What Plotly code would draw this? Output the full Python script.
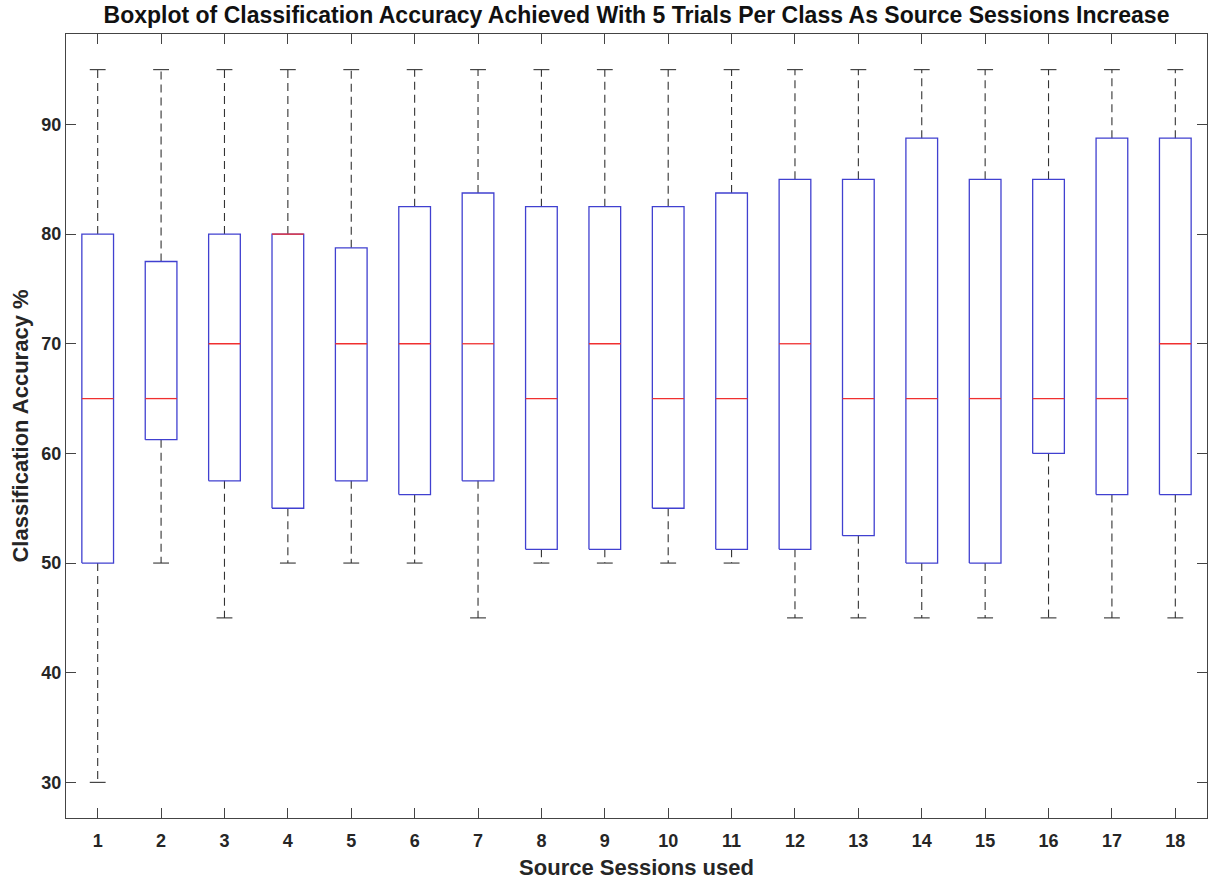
import plotly.graph_objects as go

# ---- data ----
sessions = list(range(1, 19))
lower_whisker = [30, 50, 45, 50, 50, 50, 45, 50, 50, 50, 50, 45, 45, 45, 45, 45, 45, 45]
q1 =            [50, 61.25, 57.5, 55, 57.5, 56.25, 57.5, 51.25, 51.25, 55, 51.25, 51.25, 52.5, 50, 50, 60, 56.25, 56.25]
median =        [65, 65, 70, 80, 70, 70, 70, 65, 70, 65, 65, 70, 65, 65, 65, 65, 65, 70]
q3 =            [80, 77.5, 80, 80, 78.75, 82.5, 83.75, 82.5, 82.5, 82.5, 83.75, 85, 85, 88.75, 85, 85, 88.75, 88.75]
upper_whisker = [95] * 18
y_ticks = [30, 40, 50, 60, 70, 80, 90]

BOX_HALF = 0.25
CAP_HALF = 0.125

box_x, box_y = [], []
med_x, med_y = [], []
wh_x, wh_y = [], []
cap_x, cap_y = [], []
for i, s in enumerate(sessions):
    box_x += [s - BOX_HALF, s + BOX_HALF, s + BOX_HALF, s - BOX_HALF, s - BOX_HALF, None]
    box_y += [q1[i], q1[i], q3[i], q3[i], q1[i], None]
    med_x += [s - BOX_HALF, s + BOX_HALF, None]
    med_y += [median[i], median[i], None]
    wh_x += [s, s, None, s, s, None]
    wh_y += [q3[i], upper_whisker[i], None, q1[i], lower_whisker[i], None]
    cap_x += [s - CAP_HALF, s + CAP_HALF, None, s - CAP_HALF, s + CAP_HALF, None]
    cap_y += [upper_whisker[i], upper_whisker[i], None, lower_whisker[i], lower_whisker[i], None]

fig = go.Figure()
fig.add_trace(go.Scatter(x=wh_x, y=wh_y, mode="lines",
                         line=dict(color="#333333", width=1.1, dash="8px,5px"),
                         hoverinfo="skip", showlegend=False))
fig.add_trace(go.Scatter(x=cap_x, y=cap_y, mode="lines",
                         line=dict(color="#333333", width=1.1),
                         hoverinfo="skip", showlegend=False))
fig.add_trace(go.Scatter(x=box_x, y=box_y, mode="lines",
                         line=dict(color="#4040d0", width=1.3),
                         hoverinfo="skip", showlegend=False))
fig.add_trace(go.Scatter(x=med_x, y=med_y, mode="lines",
                         line=dict(color="#f03030", width=1.3),
                         hoverinfo="skip", showlegend=False))

font_family = "Liberation Sans, Arial, Helvetica, sans-serif"
axis_common = dict(
    showline=True, linecolor="#444444", linewidth=1.2, mirror="ticks",
    ticks="inside", ticklen=10, tickcolor="#444444", tickwidth=1,
    showgrid=False, zeroline=False,
    tickfont=dict(family=font_family, size=18, color="#262626", weight="bold"),
)

fig.update_layout(
    width=1208, height=881, autosize=False,
    margin=dict(l=66, r=1, t=34, b=63),
    paper_bgcolor="white", plot_bgcolor="white",
    title=dict(text="Boxplot of Classification Accuracy Achieved With 5 Trials Per Class As Source Sessions Increase",
               font=dict(family=font_family, size=23, color="#111111", weight="bold"),
               x=0.5, xanchor="center", xref="paper", y=0.983, yanchor="middle"),
    xaxis=dict(range=[0.5, 18.5], tickmode="array", tickvals=sessions,
               ticktext=[str(s) for s in sessions], ticklabelstandoff=6,
               title=dict(text="Source Sessions used", standoff=9,
                          font=dict(family=font_family, size=22, color="#262626", weight="bold")),
               **axis_common),
    yaxis=dict(range=[26.75, 98.25], tickmode="array", tickvals=y_ticks,
               ticktext=[str(t) for t in y_ticks],
               title=dict(text="Classification Accuracy %", standoff=6,
                          font=dict(family=font_family, size=22, color="#262626", weight="bold")),
               **axis_common),
)

fig.write_html("out.html")
